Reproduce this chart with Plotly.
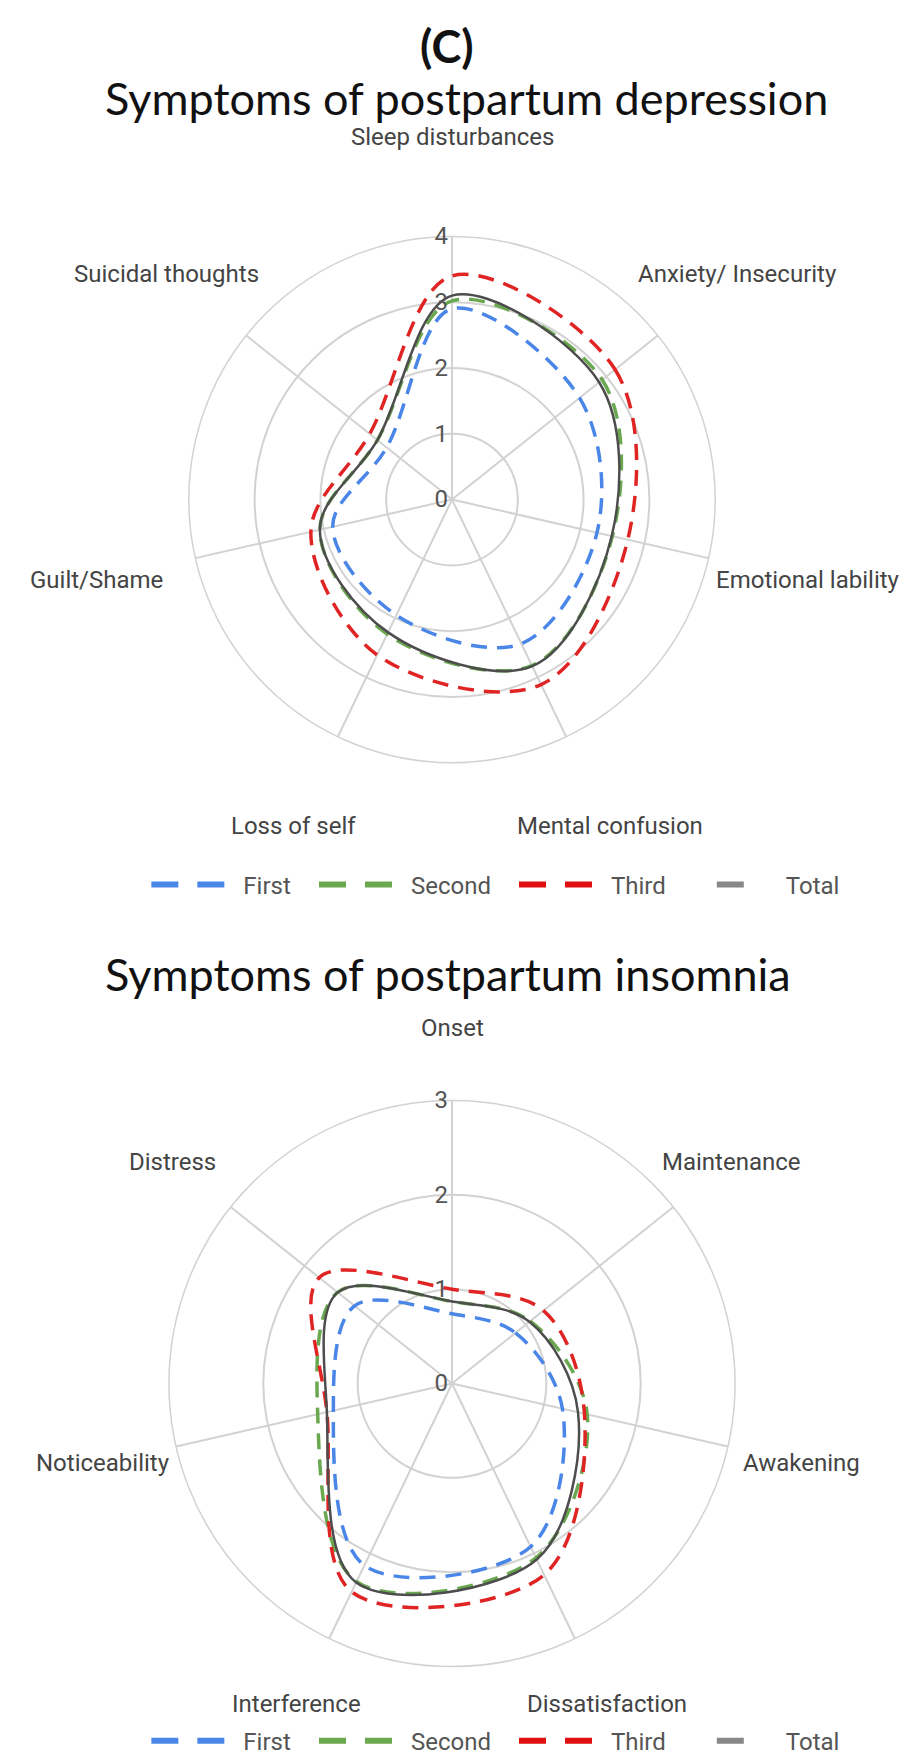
import math
import plotly.graph_objects as go

# ---------------- data ----------------
depression_categories = ["Sleep disturbances", "Anxiety/ Insecurity", "Emotional lability",
                         "Mental confusion", "Loss of self", "Guilt/Shame", "Suicidal thoughts"]
depression_first = [2.90, 2.48, 2.26, 2.43, 1.95, 1.86, 1.27]
depression_second = [3.02, 2.92, 2.50, 2.80, 2.27, 2.06, 1.45]
depression_third = [3.40, 3.17, 2.74, 3.12, 2.62, 2.20, 1.60]
depression_total = [3.10, 2.86, 2.49, 2.81, 2.24, 2.06, 1.45]
depression_ticks = [0, 1, 2, 3, 4]

insomnia_categories = ["Onset", "Maintenance", "Awakening", "Dissatisfaction",
                       "Interference", "Noticeability", "Distress"]
insomnia_first = [0.74, 0.86, 1.20, 1.92, 2.14, 1.29, 1.32]
insomnia_second = [0.87, 1.06, 1.47, 2.05, 2.33, 1.46, 1.55]
insomnia_third = [1.00, 1.24, 1.44, 2.25, 2.45, 1.36, 1.80]
insomnia_total = [0.87, 1.05, 1.37, 2.07, 2.34, 1.36, 1.55]
insomnia_ticks = [0, 1, 2, 3]

series_names = ["First", "Second", "Third", "Total"]
panel_label = "(C)"
titles = ["Symptoms of postpartum depression", "Symptoms of postpartum insomnia"]

# ---------------- styles / layout ----------------
W, H = 910, 1764
LINE_COLORS = ["#4a86e8", "#6aa84f", "#e02424", "#4d4d4d"]
LEGEND_COLORS = ["#4a86e8", "#6aa84f", "#e01010", "#888888"]
LEGEND_DASH = ["0px,18px,27px,19px,27px,300px"] * 3 + ["0px,41px,27px,300px"]
GRID = "#d2d2d2"
TXT = "#444444"

charts = [
    dict(cats=depression_categories, ticks=depression_ticks,
         series=[depression_first, depression_second, depression_third, depression_total],
         cx=452, cy=503, R=265, label_r=365, legend_y=891, title_y=99, polar="polar", legend="legend"),
    dict(cats=insomnia_categories, ticks=insomnia_ticks,
         series=[insomnia_first, insomnia_second, insomnia_third, insomnia_total],
         cx=452, cy=1393, R=285, label_r=358, legend_y=1753, title_y=981, polar="polar2", legend="legend2"),
]

fig = go.Figure()
annotations = []

annotations.append(dict(text="<b>" + panel_label + "</b>", x=447 / W, y=1 - 46 / H, xref="paper", yref="paper",
                        xanchor="center", yanchor="middle", showarrow=False,
                        font=dict(family="Lato", size=45, color="#111")))

for ci, ch in enumerate(charts):
    cats = ch["cats"]
    for si, (name, vals) in enumerate(zip(series_names, ch["series"])):
        is_total = name == "Total"
        fig.add_trace(go.Scatterpolar(
            r=list(vals) + [vals[0]], theta=list(cats) + [cats[0]],
            mode="lines", name=name, subplot=ch["polar"], showlegend=False,
            line=dict(color=LINE_COLORS[si], width=2.5 if is_total else 3.5,
                      dash="solid" if is_total else "16px,10px", shape="spline", smoothing=1.0),
        ))
    # legend entries
    for si, name in enumerate(series_names):
        fig.add_trace(go.Scatterpolar(
            r=[None], theta=[None], mode="lines", name=name, subplot=ch["polar"],
            legend=ch["legend"], showlegend=True, hoverinfo="skip",
            line=dict(color=LEGEND_COLORS[si], width=6, dash=LEGEND_DASH[si]),
        ))

    cx, cy, R = ch["cx"], ch["cy"], ch["R"]
    polar = dict(
        domain=dict(x=[(cx - R) / W, (cx + R) / W], y=[1 - (cy + R) / H, 1 - (cy - R) / H]),
        bgcolor="white",
        angularaxis=dict(type="category", categoryarray=cats, direction="clockwise", rotation=90,
                         showticklabels=False, ticks="", showline=True, linecolor=GRID, linewidth=1.5,
                         gridcolor=GRID, gridwidth=1.5),
        radialaxis=dict(range=[0, max(ch["ticks"])], tickvals=ch["ticks"], showline=False, ticks="",
                        gridcolor=GRID, gridwidth=1.5, angle=90, side="counterclockwise", tickangle=90,
                        tickfont=dict(family="Roboto", size=24, color="#555")),
    )
    fig.update_layout(**{ch["polar"]: polar})
    fig.update_layout(**{ch["legend"]: dict(
        orientation="h", x=0.535, xanchor="center", y=1 - ch["legend_y"] / H, yanchor="middle",
        itemwidth=105,
        font=dict(family="Roboto", size=24, color="#555"), bgcolor="rgba(0,0,0,0)")})

    # category labels placed around the circle, centred on each spoke
    n = len(cats)
    for i, c in enumerate(cats):
        a = math.radians(90 - i * 360 / n)
        px = cx + ch["label_r"] * math.cos(a)
        py = cy - ch["label_r"] * math.sin(a)
        annotations.append(dict(text=c, x=px / W, y=1 - py / H, xref="paper", yref="paper",
                                xanchor="center", yanchor="middle", showarrow=False,
                                font=dict(family="Roboto", size=24, color=TXT)))
    annotations.append(dict(text=titles[ci], x=103 / W, y=1 - ch["title_y"] / H, xref="paper", yref="paper",
                            xanchor="left", yanchor="middle", showarrow=False,
                            font=dict(family="Lato", size=45, color="#111")))

fig.update_layout(width=W, height=H, margin=dict(l=0, r=0, t=0, b=0),
                  paper_bgcolor="white", plot_bgcolor="white", annotations=annotations)

fig.write_html("out.html", config={"displayModeBar": False},
               post_script="document.body.style.margin='0';document.body.style.overflow='hidden';")
